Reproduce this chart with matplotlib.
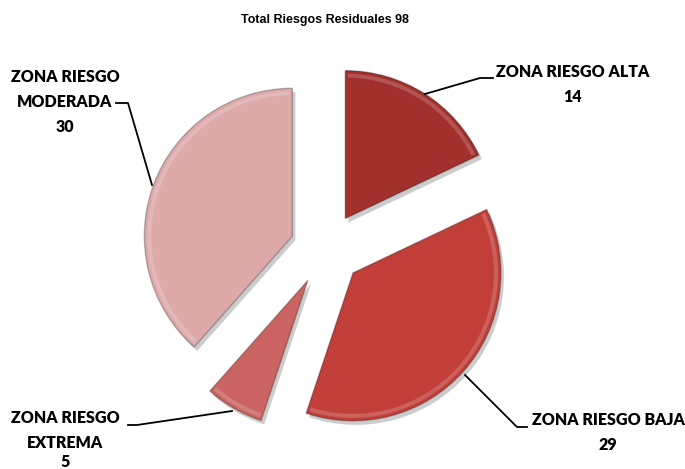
import matplotlib
matplotlib.use("Agg")
import matplotlib.pyplot as plt
from matplotlib.patches import Wedge

# data
categories = ["ZONA RIESGO ALTA", "ZONA RIESGO BAJA", "ZONA RIESGO\nEXTREMA", "ZONA RIESGO\nMODERADA"]
values = [14, 29, 5, 30]
colors = ["#A2302C", "#C13E39", "#CA6462", "#DDA9A9"]
title = "Total Riesgos Residuales 98"

W, H = 685, 469
fig = plt.figure(figsize=(W / 100, H / 100), dpi=100)
ax = fig.add_axes([0, 0, 1, 1])

cx, cy, r = 326, H - 249, 148
explode = [36] * len(values)  # pie uses data units for the offset

# soft shadow first
ax.pie(values, startangle=90, counterclock=False, radius=r,
       center=(cx + 3, cy - 4), explode=explode, frame=True,
       colors=["#000000"] * 4, wedgeprops=dict(linewidth=0, alpha=0.2))
wedges, _ = ax.pie(values, startangle=90, counterclock=False, radius=r,
                   center=(cx, cy), explode=explode, frame=True, colors=colors,
                   wedgeprops=dict(linewidth=1.0, edgecolor="#00000040"))

# bevel highlight along the rim
for w in wedges:
    ax.add_patch(Wedge(w.center, r - 3, w.theta1 + 1, w.theta2 - 1, width=4,
                       facecolor="white", edgecolor="none", alpha=0.18))

ax.set_xlim(0, W)
ax.set_ylim(0, H)
ax.set_aspect("equal")
ax.axis("off")

lab_font = dict(family=["Lato", "DejaVu Sans"], fontweight="heavy", fontsize=11.5,
                ha="center", va="center", color="black")


def yy(v):
    return H - v


ax.text(573, yy(72), categories[0], **lab_font)
ax.text(573, yy(97), str(values[0]), **lab_font)
ax.plot([425, 480, 493], [yy(94), yy(78), yy(78)], color="black", lw=1.3)

ax.text(608, yy(420), categories[1], **lab_font)
ax.text(608, yy(445), str(values[1]), **lab_font)
ax.plot([465, 517, 527], [yy(375), yy(427), yy(427)], color="black", lw=1.3)

ax.text(65, yy(418), categories[2].split("\n")[0], **lab_font)
ax.text(65, yy(443), categories[2].split("\n")[1], **lab_font)
ax.text(65, yy(462), str(values[2]), **lab_font)
ax.plot([128, 137, 232], [yy(425), yy(425), yy(411)], color="black", lw=1.3)

ax.text(65, yy(77), categories[3].split("\n")[0], **lab_font)
ax.text(65, yy(102), categories[3].split("\n")[1], **lab_font)
ax.text(65, yy(127), str(values[3]), **lab_font)
ax.plot([116, 128, 152], [yy(103), yy(103), yy(185)], color="black", lw=1.3)

ax.text(325, yy(20), title, family="Liberation Sans", fontweight="bold",
        fontsize=9, ha="center", va="center")

fig.savefig("out.png", dpi=100, facecolor="white")
